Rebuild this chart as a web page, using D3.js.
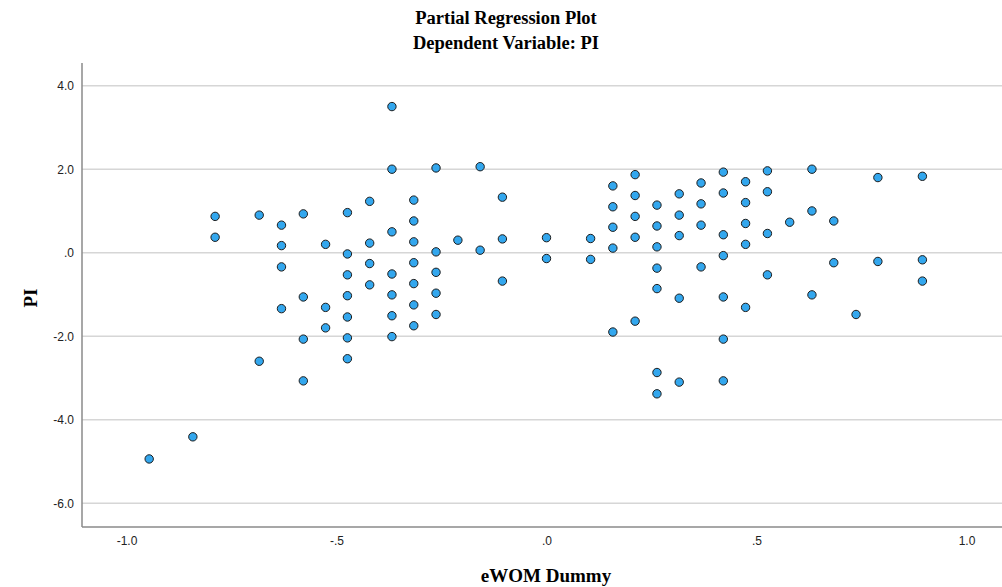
<!DOCTYPE html>
<html>
<head>
<meta charset="utf-8">
<script src="https://cdnjs.cloudflare.com/ajax/libs/d3/7.8.5/d3.min.js"></script>
<style>
  body { margin: 0; background: #fff; }
</style>
</head>
<body>
<div id="chart-container"></div>
<script>
// Chart data
const title1 = 'Partial Regression Plot';
const title2 = 'Dependent Variable: PI';
const xLabel = 'eWOM Dummy';
const yLabel = 'PI';

const xTickValues = [-1.0, -0.5, 0.0, 0.5, 1.0];
const xTickLabels = ['-1.0', '-.5', '.0', '.5', '1.0'];
const yTickValues = [4, 2, 0, -2, -4, -6];
const yTickLabels = ['4.0', '2.0', '.0', '-2.0', '-4.0', '-6.0'];

// eWOM Dummy residuals (x) and PI residuals (y), one entry per point
const ewom = [
  -0.946, -0.842,
  -0.789, -0.789,
  -0.684, -0.684,
  -0.631, -0.631, -0.631, -0.631,
  -0.579, -0.579, -0.579, -0.579,
  -0.526, -0.526, -0.526,
  -0.474, -0.474, -0.474, -0.474, -0.474, -0.474, -0.474,
  -0.421, -0.421, -0.421, -0.421,
  -0.368, -0.368, -0.368, -0.368, -0.368, -0.368, -0.368,
  -0.316, -0.316, -0.316, -0.316, -0.316, -0.316, -0.316,
  -0.263, -0.263, -0.263, -0.263, -0.263,
  -0.211,
  -0.158, -0.158,
  -0.105, -0.105, -0.105,
  0.0, 0.0,
  0.105, 0.105,
  0.158, 0.158, 0.158, 0.158, 0.158,
  0.211, 0.211, 0.211, 0.211, 0.211,
  0.263, 0.263, 0.263, 0.263, 0.263, 0.263, 0.263,
  0.316, 0.316, 0.316, 0.316, 0.316,
  0.368, 0.368, 0.368, 0.368,
  0.421, 0.421, 0.421, 0.421, 0.421, 0.421, 0.421,
  0.474, 0.474, 0.474, 0.474, 0.474,
  0.526, 0.526, 0.526, 0.526,
  0.579,
  0.632, 0.632, 0.632,
  0.684, 0.684,
  0.737,
  0.789, 0.789,
  0.895, 0.895, 0.895
];
const pi = [
  -4.94, -4.41,
  0.87, 0.37,
  0.90, -2.60,
  0.66, 0.17, -0.34, -1.34,
  0.93, -1.06, -2.07, -3.07,
  0.20, -1.31, -1.80,
  0.96, -0.03, -0.53, -1.03, -1.54, -2.04, -2.54,
  1.23, 0.23, -0.26, -0.77,
  3.50, 2.00, 0.50, -0.51, -1.01, -1.51, -2.01,
  1.26, 0.76, 0.26, -0.24, -0.74, -1.25, -1.75,
  2.03, 0.02, -0.47, -0.97, -1.48,
  0.30,
  2.06, 0.06,
  1.33, 0.33, -0.68,
  0.36, -0.14,
  0.34, -0.16,
  1.60, 1.10, 0.61, 0.11, -1.90,
  1.87, 1.37, 0.87, 0.37, -1.64,
  1.14, 0.64, 0.14, -0.37, -0.86, -2.87, -3.38,
  1.41, 0.90, 0.41, -1.09, -3.10,
  1.67, 1.17, 0.66, -0.34,
  1.93, 1.43, 0.43, -0.07, -1.06, -2.07, -3.07,
  1.70, 1.20, 0.70, 0.20, -1.31,
  1.96, 1.46, 0.46, -0.53,
  0.73,
  2.00, 1.00, -1.01,
  0.76, -0.24,
  -1.48,
  1.80, -0.21,
  1.83, -0.17, -0.68
];

// Set up the SVG container size
const svgWidth = 1002;
const svgHeight = 587;
const plot = { left: 82, right: 1002, top: 63, bottom: 527 };

const svg = d3.select('#chart-container')
  .append('svg')
  .attr('width', svgWidth)
  .attr('height', svgHeight);

// Scales
const xScale = d3.scaleLinear()
  .domain([-1.0, 1.0])
  .range([126.5, 966.5]);
const yScale = d3.scaleLinear()
  .domain([4, -6])
  .range([85.7, 503.2]);

// Horizontal grid lines
svg.append('g')
  .selectAll('line')
  .data(yTickValues)
  .enter()
  .append('line')
  .attr('x1', plot.left)
  .attr('x2', plot.right)
  .attr('y1', d => yScale(d))
  .attr('y2', d => yScale(d))
  .attr('stroke', '#d6d6d6')
  .attr('stroke-width', 1.5);

// Y axis
const yAxis = svg.append('g')
  .attr('transform', 'translate(' + plot.left + ',0)')
  .call(d3.axisLeft(yScale)
    .tickValues(yTickValues)
    .tickFormat((d, i) => yTickLabels[i])
    .tickSize(0)
    .tickPadding(8));
yAxis.select('.domain').remove();
yAxis.selectAll('text')
  .style('font-family', '"Liberation Sans", Arial, sans-serif')
  .style('font-size', '12px')
  .style('fill', '#222');

// X axis
const xAxis = svg.append('g')
  .attr('transform', 'translate(0,' + plot.bottom + ')')
  .call(d3.axisBottom(xScale)
    .tickValues(xTickValues)
    .tickFormat((d, i) => xTickLabels[i])
    .tickSize(0)
    .tickPadding(9));
xAxis.select('.domain').remove();
xAxis.selectAll('text')
  .style('font-family', '"Liberation Sans", Arial, sans-serif')
  .style('font-size', '12px')
  .style('fill', '#222');

// Axis lines
svg.append('line')
  .attr('x1', plot.left).attr('x2', plot.left)
  .attr('y1', plot.top).attr('y2', plot.bottom)
  .attr('stroke', '#8a8a8a').attr('stroke-width', 1.5);
svg.append('line')
  .attr('x1', plot.left).attr('x2', plot.right)
  .attr('y1', plot.bottom).attr('y2', plot.bottom)
  .attr('stroke', '#8a8a8a').attr('stroke-width', 1.5);

// Points
svg.append('g')
  .selectAll('circle')
  .data(ewom.map((x, i) => ({ x: x, y: pi[i] })))
  .enter()
  .append('circle')
  .attr('cx', d => xScale(d.x))
  .attr('cy', d => yScale(d.y))
  .attr('r', 4.2)
  .attr('fill', '#33a7ee')
  .attr('stroke', '#1c1c1c')
  .attr('stroke-width', 1);

// Titles
const serif = '"Liberation Serif", "Times New Roman", serif';
svg.append('text')
  .attr('x', 506).attr('y', 24)
  .attr('text-anchor', 'middle')
  .style('font-family', serif).style('font-weight', 'bold').style('font-size', '18.5px')
  .text(title1);
svg.append('text')
  .attr('x', 506).attr('y', 49)
  .attr('text-anchor', 'middle')
  .style('font-family', serif).style('font-weight', 'bold').style('font-size', '18.5px')
  .text(title2);

// Axis labels
svg.append('text')
  .attr('x', 546).attr('y', 582)
  .attr('text-anchor', 'middle')
  .style('font-family', serif).style('font-weight', 'bold').style('font-size', '19px')
  .text(xLabel);
svg.append('text')
  .attr('transform', 'translate(37,298) rotate(-90)')
  .attr('text-anchor', 'middle')
  .style('font-family', serif).style('font-weight', 'bold').style('font-size', '19px')
  .text(yLabel);
</script>
</body>
</html>
